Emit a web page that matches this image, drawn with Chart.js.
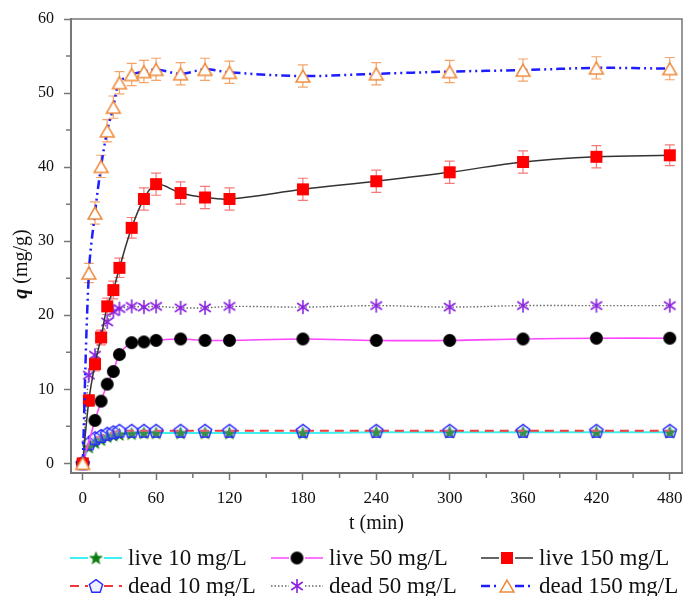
<!DOCTYPE html>
<html>
<head>
<meta charset="utf-8">
<script src="https://cdn.jsdelivr.net/npm/chart.js@4.4.1/dist/chart.umd.min.js"></script>
<style>
  html, body { margin: 0; padding: 0; background: #fff; }
  #wrap { width: 685px; height: 596px; }
</style>
</head>
<body>
<div id="wrap"><canvas id="kinetics" width="685" height="596"></canvas></div>
<script>
// sampling times (min)
const times = [0, 5, 10, 15, 20, 25, 30, 40, 50, 60, 80, 100, 120, 180, 240, 300, 360, 420, 480];

// q (mg/g) per series (null = point not visible in the figure)
const live10  = [0, 2.2, 2.8, 3.2, 3.6, 3.8, 3.9, 4.0, 4.1, 4.1, 4.1, 4.1, 4.1, 4.1, 4.2, 4.2, 4.2, 4.2, 4.2];
const live50  = [0, null, 5.8, 8.4, 10.7, 12.4, 14.7, 16.3, 16.4, 16.6, 16.8, 16.6, 16.6, 16.8, 16.6, 16.6, 16.8, 16.9, 16.9];
const live150 = [0, 8.5, 13.4, 17.0, 21.2, 23.4, 26.4, 31.8, 35.7, 37.7, 36.5, 35.9, 35.7, 37.0, 38.1, 39.3, 40.7, 41.4, 41.6];
const dead10  = [0, 2.7, 3.4, 3.7, 4.0, 4.2, 4.4, 4.4, 4.4, 4.4, 4.4, 4.4, 4.4, 4.4, 4.4, 4.4, 4.4, 4.4, 4.4];
const dead50  = [0, 11.9, 14.6, 17.1, 19.1, 20.5, 20.9, 21.2, 21.1, 21.2, 21.0, 21.0, 21.2, 21.1, 21.3, 21.1, 21.3, 21.3, 21.3];
const dead150 = [0, 25.7, 33.8, 40.1, 44.9, 48.1, 51.4, 52.5, 52.9, 53.2, 52.6, 53.2, 52.8, 52.3, 52.6, 52.9, 53.1, 53.4, 53.3];

// standard deviations (only the 150 mg/L series have visible bars)
const live150Err = [0, 0.8, 0.9, 1.0, 1.1, 1.2, 1.3, 1.4, 1.5, 1.5, 1.5, 1.5, 1.5, 1.5, 1.5, 1.5, 1.5, 1.5, 1.4];
const dead150Err = [0, 1.3, 1.5, 1.5, 1.5, 1.5, 1.5, 1.5, 1.5, 1.5, 1.5, 1.5, 1.5, 1.5, 1.5, 1.5, 1.5, 1.5, 1.5];

const seriesLabels = ['live 10 mg/L', 'live 50 mg/L', 'live 150 mg/L', 'dead 10 mg/L', 'dead 50 mg/L', 'dead 150 mg/L'];

// axis ticks
const xMajor = [0, 60, 120, 180, 240, 300, 360, 420, 480];
const xMinor = [30, 90, 150, 210, 270, 330, 390, 450];
const yMajor = [0, 10, 20, 30, 40, 50, 60];
const yMinor = [5, 15, 25, 35, 45, 55];

const SERIF = '"Liberation Serif", "Times New Roman", serif';
const AXIS_GRAY = '#777';

const pts = vals => times.map((t, i) => ({ x: t, y: vals[i] }));

// marker images (drawn once, used as pointStyle)
function marker(kind, r, fill, stroke, lw) {
  const size = Math.ceil(r * 2 + 4);
  const c = document.createElement('canvas');
  c.width = size; c.height = size;
  const g = c.getContext('2d');
  const m = size / 2;
  g.lineWidth = lw || 1.5;
  g.fillStyle = fill || 'rgba(0,0,0,0)';
  g.strokeStyle = stroke || 'rgba(0,0,0,0)';
  const poly = (n, rad, dy) => {
    g.beginPath();
    for (let k = 0; k < n; k++) {
      const a = -Math.PI / 2 + k * 2 * Math.PI / n;
      const rr = typeof rad === 'function' ? rad(k) : rad;
      const px = m + rr * Math.cos(a), py = m + dy + rr * Math.sin(a);
      k ? g.lineTo(px, py) : g.moveTo(px, py);
    }
    g.closePath();
  };
  if (kind === 'circle') {
    g.beginPath(); g.arc(m, m, r, 0, Math.PI * 2);
  } else if (kind === 'square') {
    g.beginPath(); g.rect(m - r, m - r, 2 * r, 2 * r);
  } else if (kind === 'star') {
    poly(10, k => (k % 2 ? r * 0.42 : r), 0.5);
  } else if (kind === 'pentagon') {
    poly(5, r, 0.6);
  } else if (kind === 'triangle') {
    poly(3, r, r / 4);
  } else if (kind === 'asterisk') {
    g.beginPath();
    [90, 35, 145].forEach(d => {
      const a = d * Math.PI / 180;
      g.moveTo(m - r * Math.cos(a), m - r * Math.sin(a));
      g.lineTo(m + r * Math.cos(a), m + r * Math.sin(a));
    });
    g.stroke();
    return c;
  }
  if (fill) g.fill();
  if (stroke) g.stroke();
  return c;
}

const mkStar = marker('star', 6.5, '#0b7d12', '#0b7d12', 0.8);
const mkCircle = marker('circle', 6.5, '#000', null);
const mkSquare = marker('square', 6, '#ff0000', null);
const mkPenta = marker('pentagon', 7, 'rgba(190,200,255,0.25)', '#2a2aff', 1.4);
const mkAster = marker('asterisk', 7, null, '#8a22e0', 1.6);
const mkTri = marker('triangle', 8, '#fff', '#ee8a3c', 1.5);

// error bars, drawn under the markers
const errorBars = {
  id: 'errorBars',
  beforeDatasetsDraw(chart) {
    const { ctx, scales: { x, y } } = chart;
    chart.data.datasets.forEach(ds => {
      if (!ds.errors) return;
      ctx.save();
      ctx.strokeStyle = ds.errorColor;
      ctx.lineWidth = 1.2;
      ds.data.forEach((p, k) => {
        const e = ds.errors[k];
        if (!e) return;
        const px = x.getPixelForValue(p.x);
        const top = y.getPixelForValue(p.y + e);
        const bot = y.getPixelForValue(p.y - e);
        ctx.beginPath();
        ctx.moveTo(px, top); ctx.lineTo(px, bot);
        ctx.moveTo(px - 5, top); ctx.lineTo(px + 5, top);
        ctx.moveTo(px - 5, bot); ctx.lineTo(px + 5, bot);
        ctx.stroke();
      });
      ctx.restore();
    });
  }
};

// frame, minor ticks, y title and legend
const decorations = {
  id: 'decorations',
  afterDraw(chart) {
    const { ctx, chartArea: a, scales: { x, y } } = chart;
    ctx.save();
    ctx.strokeStyle = AXIS_GRAY;
    ctx.lineWidth = 1.5;
    ctx.beginPath();
    ctx.moveTo(a.left, a.top); ctx.lineTo(a.right, a.top); ctx.lineTo(a.right, a.bottom);
    ctx.stroke();

    ctx.beginPath();
    xMinor.forEach(v => {
      const px = x.getPixelForValue(v);
      ctx.moveTo(px, a.bottom + 1); ctx.lineTo(px, a.bottom + 5);
    });
    yMinor.forEach(v => {
      const py = y.getPixelForValue(v);
      ctx.moveTo(a.left - 1, py); ctx.lineTo(a.left - 5, py);
    });
    ctx.stroke();

    // y title: bold italic q + normal unit
    ctx.fillStyle = '#111';
    ctx.textBaseline = 'middle';
    const fq = 'italic bold 20px ' + SERIF;
    const fu = '20px ' + SERIF;
    ctx.font = fq; const wq = ctx.measureText('q').width;
    ctx.font = fu; const wu = ctx.measureText(' (mg/g)').width;
    ctx.translate(22, 264);
    ctx.rotate(-Math.PI / 2);
    const start = -(wq + wu) / 2;
    ctx.font = fq; ctx.fillText('q', start, 0);
    ctx.font = fu; ctx.fillText(' (mg/g)', start + wq, 0);
    ctx.restore();

    // legend, 3 columns x 2 rows
    const cols = [70, 271, 481];
    const rows = [558, 586];
    chart.data.datasets.forEach((ds, i) => {
      const lx = cols[i % 3], ly = rows[Math.floor(i / 3)];
      ctx.save();
      ctx.strokeStyle = ds.borderColor;
      ctx.lineWidth = ds.borderWidth;
      ctx.setLineDash(ds.borderDash || []);
      ctx.beginPath();
      ctx.moveTo(lx, ly); ctx.lineTo(lx + 18, ly);
      ctx.moveTo(lx + 34, ly); ctx.lineTo(lx + 52, ly);
      ctx.stroke();
      ctx.setLineDash([]);
      const img = ds.pointStyle;
      ctx.drawImage(img, lx + 26 - img.width / 2, ly - img.height / 2);
      ctx.fillStyle = '#111';
      ctx.font = '23px ' + SERIF;
      ctx.textBaseline = 'middle';
      ctx.fillText(ds.label, lx + 58, ly + 1);
      ctx.restore();
    });
  }
};

const base = { pointRadius: 7, pointHoverRadius: 7, tension: 0.35, fill: false, spanGaps: true };

new Chart(document.getElementById('kinetics'), {
  type: 'line',
  data: {
    datasets: [
      { ...base, label: seriesLabels[0], data: pts(live10), borderColor: '#3ff0f0', borderWidth: 2, pointStyle: mkStar, order: 5 },
      { ...base, label: seriesLabels[1], data: pts(live50), borderColor: '#ff45ff', borderWidth: 1.6, pointStyle: mkCircle, order: 3 },
      { ...base, label: seriesLabels[2], data: pts(live150), borderColor: '#333', borderWidth: 1.5, pointStyle: mkSquare, order: 1,
        errors: live150Err, errorColor: '#f47a7a' },
      { ...base, label: seriesLabels[3], data: pts(dead10), borderColor: '#f03a3a', borderWidth: 2, borderDash: [9, 6], pointStyle: mkPenta, order: 4 },
      { ...base, label: seriesLabels[4], data: pts(dead50), borderColor: '#666', borderWidth: 1.4, borderDash: [1.5, 2], pointStyle: mkAster, order: 2 },
      { ...base, label: seriesLabels[5], data: pts(dead150), borderColor: '#1d1dff', borderWidth: 2.5, borderDash: [9, 4, 2, 4, 2, 4], pointStyle: mkTri, order: 0,
        errors: dead150Err, errorColor: '#f3a46a' }
    ]
  },
  options: {
    responsive: false,
    animation: false,
    layout: { autoPadding: false, padding: { left: 0, right: 3, top: 19, bottom: 60 } },
    plugins: {
      legend: { display: false },
      tooltip: { enabled: false }
    },
    scales: {
      x: {
        type: 'linear',
        min: -9.6,
        max: 490,
        afterBuildTicks: s => { s.ticks = xMajor.map(v => ({ value: v })); },
        afterFit: s => { s.height = 63; s.paddingLeft = 0; s.paddingRight = 0; },
        border: { display: true, color: AXIS_GRAY, width: 2 },
        grid: { drawOnChartArea: false, drawTicks: true, tickLength: 7, tickWidth: 1.5, tickColor: AXIS_GRAY },
        ticks: { color: '#111', padding: 8, font: { family: SERIF, size: 17 }, maxRotation: 0 },
        title: { display: true, text: 't (min)', color: '#111', font: { family: SERIF, size: 20 }, padding: { top: 0, bottom: 0 } }
      },
      y: {
        min: -1.3,
        max: 60,
        afterBuildTicks: s => { s.ticks = yMajor.map(v => ({ value: v })); },
        afterFit: s => { s.width = 71; s.paddingTop = 0; s.paddingBottom = 0; },
        border: { display: true, color: AXIS_GRAY, width: 2 },
        grid: { drawOnChartArea: false, drawTicks: true, tickLength: 7, tickWidth: 1.5, tickColor: AXIS_GRAY },
        ticks: { color: '#111', padding: 10, font: { family: SERIF, size: 16 } }
      }
    }
  },
  plugins: [errorBars, decorations]
});
</script>
</body>
</html>
